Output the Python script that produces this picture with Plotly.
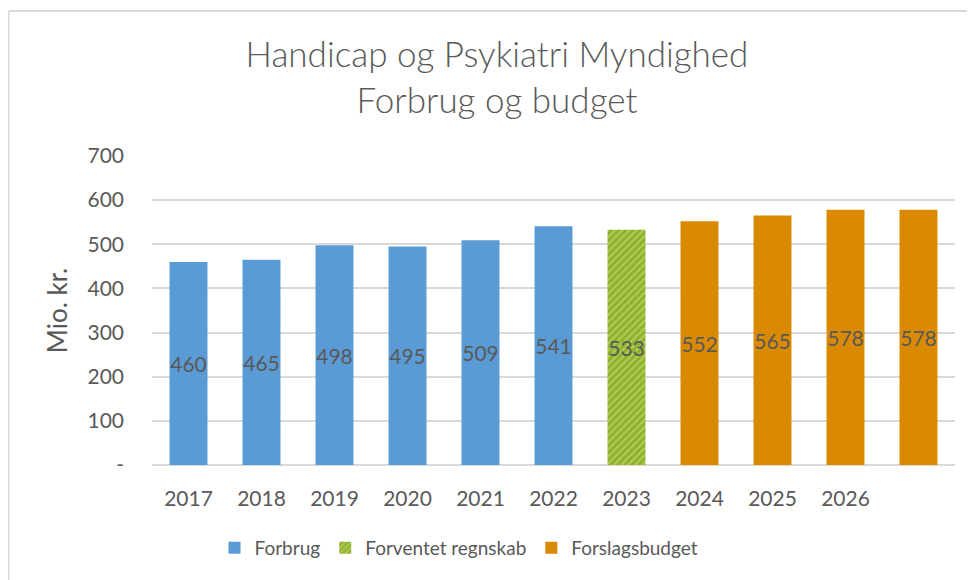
import plotly.graph_objects as go

categories = ["2017", "2018", "2019", "2020", "2021", "2022", "2023", "2024", "2025", "2026", " "]
forbrug = [460, 465, 498, 495, 509, 541]
forventet = [533]
forslag = [552, 565, 578, 578]
ytick_vals = [0, 100, 200, 300, 400, 500, 600, 700]
ytick_text = ["-", "100", "200", "300", "400", "500", "600", "700"]

FONT = "Lato, 'Open Sans', sans-serif"
GRAY = "#595959"
OFF = 8  # page body margin offset

fig = go.Figure()
common = dict(textposition="inside", insidetextanchor="middle", textangle=0,
              constraintext="none", textfont=dict(color=GRAY, size=21, family=FONT))
fig.add_trace(go.Bar(
    x=categories[:6], y=forbrug, name="Forbrug",
    marker=dict(color="#5B9BD5", line=dict(width=0)),
    text=[str(v) for v in forbrug], **common,
))
fig.add_trace(go.Bar(
    x=categories[6:7], y=forventet, name="Forventet regnskab",
    marker=dict(color="#A4C441", line=dict(width=0),
                pattern=dict(shape="/", fgcolor="#CDE585", bgcolor="#8FB02A", size=5, solidity=0.45)),
    text=[str(v) for v in forventet], **common,
))
fig.add_trace(go.Bar(
    x=categories[7:], y=forslag, name="Forslagsbudget",
    marker=dict(color="#DA8A00", line=dict(width=0)),
    text=[str(v) for v in forslag], **common,
))

W, H = 975, 580
L, T = 152 - OFF, 156 - OFF
R = W - (955 - OFF)
B = H - (465 - OFF)
pw, ph = W - L - R, H - T - B

def px(x):
    return (x - OFF - L) / pw

def py(y):
    return (H - B - (y - OFF)) / ph

fig.update_layout(
    width=W, height=H,
    margin=dict(l=L, r=R, t=T, b=B, autoexpand=False),
    paper_bgcolor="white", plot_bgcolor="white",
    barmode="overlay", bargap=0.48,
    font=dict(family=FONT, color=GRAY),
    title=dict(text="Handicap og Psykiatri Myndighed<br>Forbrug og budget",
               x=(497 - OFF) / W, xanchor="center", y=1 - (67 - OFF) / H, yanchor="middle",
               font=dict(size=35, color=GRAY, family=FONT, weight=300)),
    xaxis=dict(categoryorder="array", categoryarray=categories, automargin=False,
               tickfont=dict(size=21, color=GRAY, family=FONT),
               showgrid=False, showline=False, ticks="", ticklabelstandoff=19),
    yaxis=dict(range=[0, 700], tickvals=ytick_vals, ticktext=ytick_text, automargin=False,
               tickfont=dict(size=21, color=GRAY, family=FONT),
               showgrid=True, gridcolor="#D9D9D9", gridwidth=1.5,
               zeroline=True, zerolinecolor="#D9D9D9", zerolinewidth=1.5,
               ticks="", ticklabelstandoff=27,
               title=dict(text="Mio. kr.", font=dict(size=26, color=GRAY, family=FONT), standoff=12)),
    legend=dict(orientation="h", x=(459 - OFF) / W, xref="container", xanchor="center",
                y=1 - (548 - OFF) / H, yref="container", yanchor="middle",
                font=dict(size=19, color=GRAY, family=FONT),
                itemwidth=30, traceorder="normal"),
    shapes=[
        dict(type="line", xref="paper", yref="paper", x0=px(8.5), x1=px(990), y0=py(11), y1=py(11),
             line=dict(color="#D9D9D9", width=2)),
        dict(type="line", xref="paper", yref="paper", x0=px(8.5), x1=px(8.5), y0=py(11), y1=py(600),
             line=dict(color="#D9D9D9", width=2)),
    ],
)

fig.write_html("out.html")
